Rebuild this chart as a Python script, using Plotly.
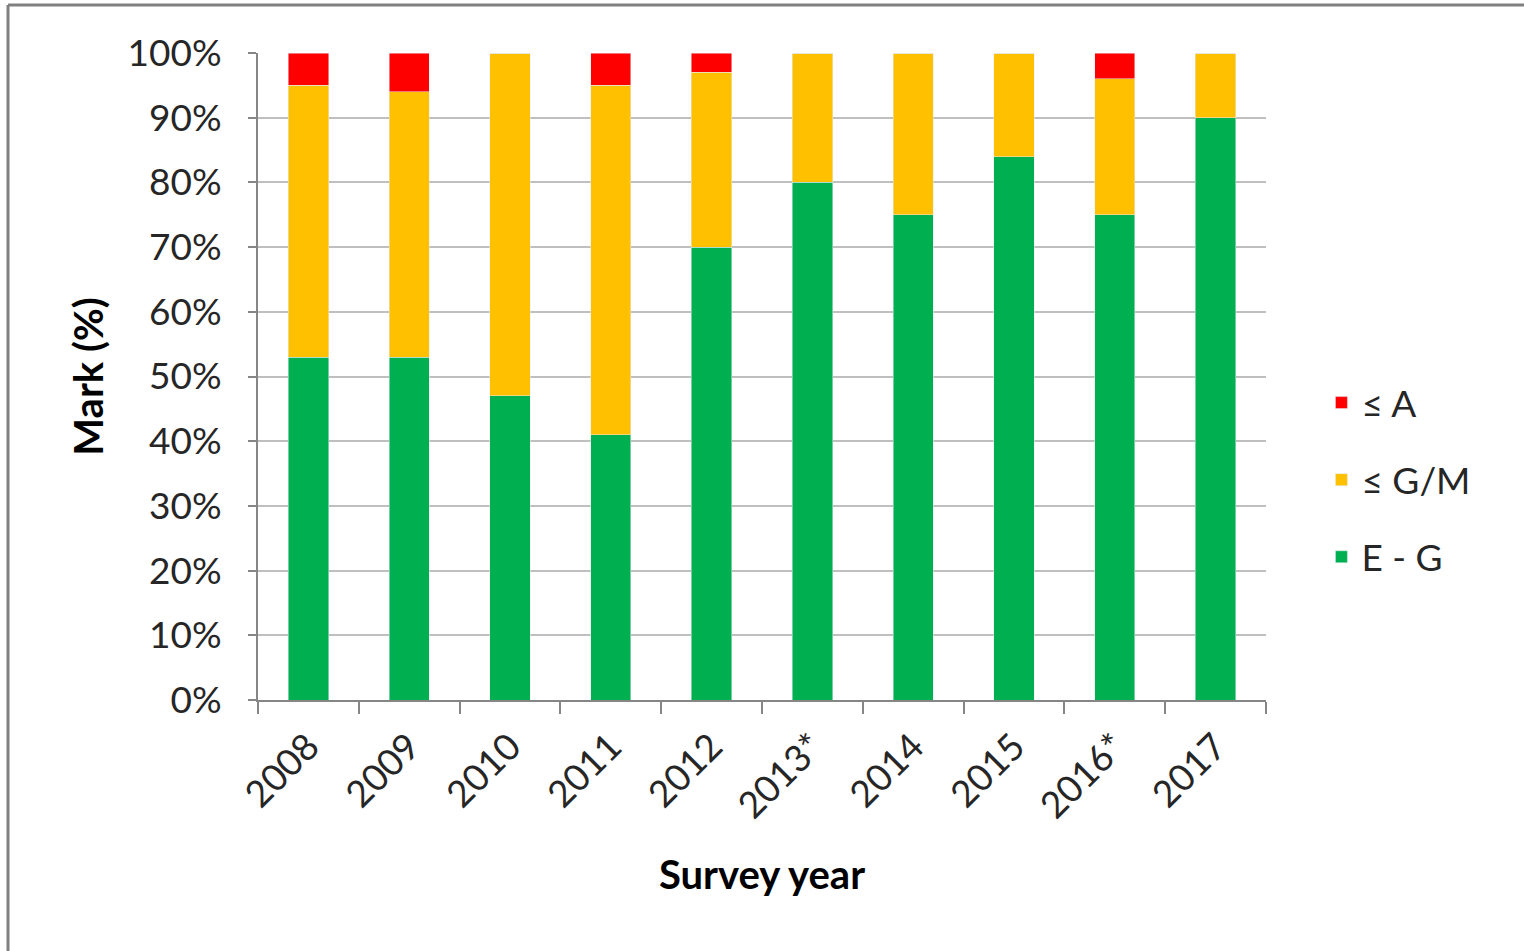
import plotly.graph_objects as go

years = ["2008", "2009", "2010", "2011", "2012", "2013*", "2014", "2015", "2016*", "2017"]
eg = [53, 53, 47, 41, 70, 80, 75, 84, 75, 90]
gm = [42, 41, 53, 54, 27, 20, 25, 16, 21, 10]
a = [5, 6, 0, 5, 3, 0, 0, 0, 4, 0]

FONT = "Lato"
TXT = "#262626"

fig = go.Figure()
fig.add_trace(go.Bar(x=years, y=eg, name="E - G", marker_color="#00B050", legendgroup="g3", legendrank=3))
fig.add_trace(go.Bar(x=years, y=gm, name="≤ G/M", marker_color="#FFC000", legendgroup="g2", legendrank=2))
fig.add_trace(go.Bar(x=years, y=a, name="≤ A", marker_color="#FF0000", legendgroup="g1", legendrank=1))

fig.update_layout(
    barmode="stack",
    bargap=0.6,
    width=1524,
    height=951,
    paper_bgcolor="white",
    plot_bgcolor="white",
    margin=dict(l=258, r=258, t=53, b=251),
    font=dict(family=FONT, size=37, color=TXT),
    legend=dict(
        x=1.055, y=0.34, xanchor="left", yanchor="middle",
        traceorder="grouped", tracegroupgap=26,
        font=dict(family=FONT, size=37, color=TXT),
    ),
    shapes=[
        dict(type="line", xref="paper", yref="paper", x0=-0.248, x1=-0.248, y0=-0.5, y1=1.0742,
             line=dict(color="#808080", width=3)),
        dict(type="line", xref="paper", yref="paper", x0=-0.248, x1=1.3, y0=1.0742, y1=1.0742,
             line=dict(color="#808080", width=3)),
    ],
)
fig.update_yaxes(
    range=[0, 100], dtick=10, ticksuffix="%",
    showgrid=True, gridcolor="#BFBFBF", gridwidth=2,
    showline=True, linecolor="#868686", linewidth=2,
    ticks="outside", ticklen=8, tickcolor="#868686", tickwidth=2,
    ticklabelstandoff=19,
    tickfont=dict(family=FONT, size=37, color=TXT),
    title=dict(text="<b>Mark (%)</b>", standoff=12, font=dict(family=FONT, size=40, color="#000000")),
    zeroline=False,
)
fig.update_xaxes(
    type="category", tickangle=-45,
    showline=True, linecolor="#868686", linewidth=2,
    ticks="outside", ticklen=12, tickcolor="#868686", tickwidth=2,
    tickson="boundaries",
    ticklabelstandoff=8,
    tickfont=dict(family=FONT, size=37, color=TXT),
    title=dict(text="<b>Survey year</b>", standoff=36, font=dict(family=FONT, size=40, color="#000000")),
)

fig.write_html("out.html")
